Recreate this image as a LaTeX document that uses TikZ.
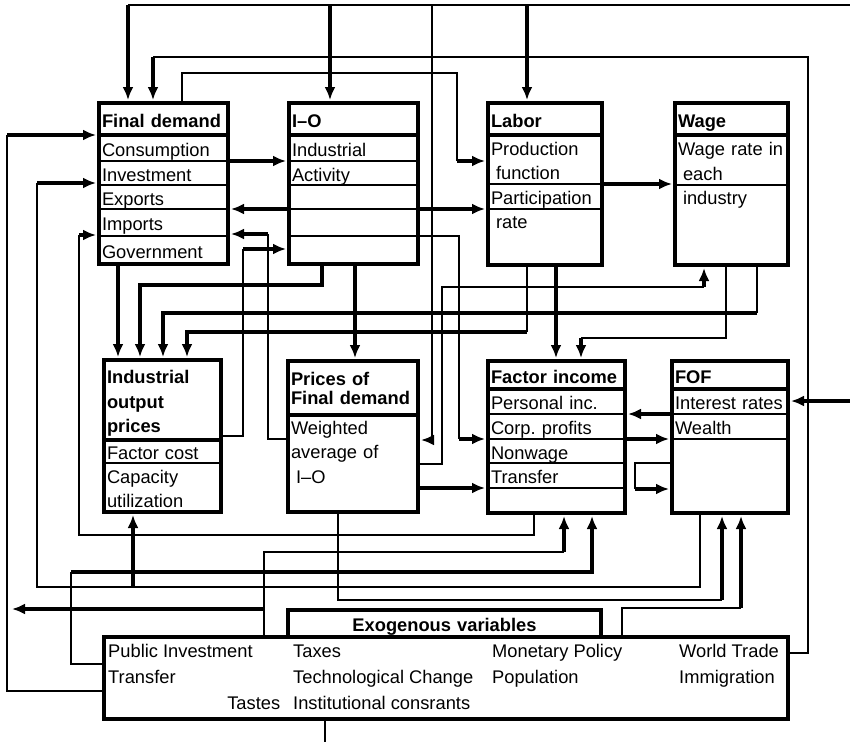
\documentclass[tikz,border=0pt]{standalone}
\usepackage{fontspec}
\setmainfont{Liberation Sans}
\usetikzlibrary{arrows.meta,positioning}
\newcommand\boxfont{\fontsize{18.3}{24.5}\selectfont}

\begin{document}
\begin{tikzpicture}[x=1pt,y=-1pt,
  font=\boxfont,
  hdr/.style={draw,line width=4pt,font=\boxfont\bfseries,anchor=north west,
    inner xsep=3pt,inner ysep=0pt,outer sep=0pt,align=left,text height=17pt,text depth=1pt},
  row/.style={draw,line width=1.6pt,inner xsep=3pt,inner ysep=0pt,outer sep=0pt,align=left,
    text height=17pt,text depth=1pt},
  toprow/.style={row,text height=19pt,text depth=#1},
  boxline/.style={line width=4pt},
  wire/.style={line width=1.3pt},
  feed/.style={line width=3.1pt},
  arr/.style={-{Latex[length=13pt,width=11pt]},shorten >=3pt}
]
\useasboundingbox (0,0) rectangle (850,742);

% Final demand
\begin{scope}[nodes={text width=123pt}]
\node[hdr,minimum height=32pt] (fd) at (99,103) {Final demand};
\node[row,below=0pt of fd,minimum height=26pt] (fd-c) {Consumption};
\node[row,below=0pt of fd-c,minimum height=24pt] (fd-i) {Investment};
\node[row,below=0pt of fd-i,minimum height=24pt] (fd-x) {Exports};
\node[row,below=0pt of fd-x,minimum height=27pt] (fd-m) {Imports};
\node[row,below=0pt of fd-m,minimum height=28pt] (fd-g) {Government};
\end{scope}
\draw[boxline] (fd.north west) rectangle (fd-g.south east);

% I-O
\begin{scope}[nodes={text width=123pt}]
\node[hdr,minimum height=32pt] (io) at (289,103) {I--O};
\node[row,below=0pt of io,minimum height=26pt] (io-a) {Industrial};
\node[row,below=0pt of io-a,minimum height=24pt] (io-b) {Activity};
\node[row,below=0pt of io-b,minimum height=24pt] (io-c) {};
\node[row,below=0pt of io-c,minimum height=27pt] (io-d) {};
\node[row,below=0pt of io-d,minimum height=28pt] (io-e) {};
\end{scope}
\draw[boxline] (io.north west) rectangle (io-e.south east);

% Labor
\begin{scope}[nodes={text width=108pt}]
\node[hdr,minimum height=32pt] (lab) at (488,103) {Labor};
\node[row,below=0pt of lab,minimum height=49pt,text depth=25.5pt] (lab-p) {Production\\\hspace*{5pt}function};
\node[row,below=0pt of lab-p,minimum height=25pt] (lab-q) {Participation};
\node[toprow=37pt,below=0pt of lab-q] (lab-r) {\hspace*{5pt}rate};
\end{scope}
\draw[boxline] (lab.north west) rectangle (lab-r.south east);

% Wage
\begin{scope}[nodes={text width=107pt}]
\node[hdr,minimum height=32pt] (wage) at (675,103) {Wage};
\node[row,below=0pt of wage,minimum height=50pt,text depth=25.5pt] (wage-r) {Wage rate in\\\hspace*{5pt}each};
\node[toprow=61pt,below=0pt of wage-r] (wage-i) {\hspace*{5pt}industry};
\end{scope}
\draw[boxline] (wage.north west) rectangle (wage-i.south east);

% Industrial output prices
\begin{scope}[nodes={text width=111pt}]
\node[hdr,minimum height=80pt,text depth=50pt] (iop) at (104,360) {Industrial\\output\\prices};
\node[row,below=0pt of iop,minimum height=23pt] (iop-f) {Factor cost};
\node[row,below=0pt of iop-f,minimum height=49pt,text depth=25.5pt] (iop-u) {Capacity\\utilization};
\end{scope}
\draw[boxline] (iop.north west) rectangle (iop-u.south east);

% Prices of final demand
\begin{scope}[nodes={text width=124pt}]
\node[hdr,minimum height=54pt,text height=15pt,text depth=20.5pt] (pfd) at (288,361) {Prices of\\[-5pt]Final demand};
\node[toprow=78pt,below=0pt of pfd] (pfd-w) {Weighted\\average of\\\hspace*{5pt}I--O};
\end{scope}
\draw[boxline] (pfd.north west) rectangle (pfd-w.south east);

% Factor income
\begin{scope}[nodes={text width=131pt}]
\node[hdr,minimum height=28pt] (fi) at (488,361) {Factor income};
\node[row,below=0pt of fi,minimum height=25pt] (fi-p) {Personal inc.};
\node[row,below=0pt of fi-p,minimum height=25pt] (fi-c) {Corp.\ profits};
\node[row,below=0pt of fi-c,minimum height=24pt] (fi-n) {Nonwage};
\node[row,below=0pt of fi-n,minimum height=25pt] (fi-t) {Transfer};
\node[row,below=0pt of fi-t,minimum height=25pt] (fi-e) {};
\end{scope}
\draw[boxline] (fi.north west) rectangle (fi-e.south east);

% FOF
\begin{scope}[nodes={text width=110pt}]
\node[hdr,minimum height=28pt] (fof) at (672,361) {FOF};
\node[row,below=0pt of fof,minimum height=25pt] (fof-i) {Interest rates};
\node[row,below=0pt of fof-i,minimum height=25pt] (fof-w) {Wealth};
\node[row,below=0pt of fof-w,minimum height=74pt] (fof-e) {};
\end{scope}
\draw[boxline] (fof.north west) rectangle (fof-e.south east);

% Exogenous variables
\node[hdr,text width=307pt,align=center,minimum height=27pt] (exo-h) at (288,610) {Exogenous variables};
\node[draw,boxline,anchor=north west,minimum width=684pt,minimum height=82pt,
  inner sep=0pt,outer sep=0pt] (exo) at (104,637) {};
\node[anchor=north west,inner sep=0pt] (exo-t) at (108,639) {%
  \renewcommand\arraystretch{1.06}%
  \begin{tabular}{@{}p{185pt}@{}p{199pt}@{}p{187pt}@{}l@{}}
  Public Investment & Taxes & Monetary Policy & World Trade\\
  Transfer & Technological Change & Population & Immigration\\
  \hfill Tastes\hspace*{13pt} & Institutional consrants & &
  \end{tabular}};

% coordinates for the bends
\coordinate (busR) at (850,5);
\coordinate (busFD) at (128,5);
\coordinate (busIO) at (330,5);
\coordinate (busPF) at (432,5);
\coordinate (busLab) at (527,5);
\coordinate (pfIn) at (432,440);
\coordinate (wt1) at (808,653);
\coordinate (wt2) at (808,57);
\coordinate (wt3) at (153,57);
\coordinate (fl1) at (182,73);
\coordinate (fl2) at (457,73);
\coordinate (fl3) at (457,161);
\coordinate (im1) at (268,439);
\coordinate (im2) at (268,234);
\coordinate (gv1) at (243,436);
\coordinate (gv2) at (243,249);
\coordinate (fdIop) at (118,300);
\coordinate (io1) at (322,285);
\coordinate (io2) at (140,285);
\coordinate (wg1) at (757,313);
\coordinate (wg2) at (163,313);
\coordinate (lb1) at (527,332);
\coordinate (lb2) at (187,332);
\coordinate (iopf) at (355,300);
\coordinate (lbfi) at (556,300);
\coordinate (wf1) at (726,338);
\coordinate (wf2) at (581,338);
\coordinate (pw1) at (442,464);
\coordinate (pw2) at (442,287);
\coordinate (pw3) at (704,287);
\coordinate (if1) at (459,236);
\coordinate (if2) at (459,439);
\coordinate (irate) at (850,401);
\coordinate (lp1) at (635,463);
\coordinate (lp2) at (635,489);
\coordinate (fd1) at (534,535);
\coordinate (fd2) at (79,535);
\coordinate (fd3) at (79,235);
\coordinate (fo1) at (700,587);
\coordinate (fo2) at (37,587);
\coordinate (fo3) at (37,183);
\coordinate (fo4) at (133,587);
\coordinate (ex1) at (71,664);
\coordinate (ex2) at (71,572);
\coordinate (ex3) at (592,572);
\coordinate (et1) at (264,552);
\coordinate (et2) at (564,552);
\coordinate (et3) at (264,609);
\coordinate (lout) at (9,609);
\coordinate (pf1) at (338,600);
\coordinate (pf2) at (722,600);
\coordinate (ef1) at (622,608);
\coordinate (ef2) at (741,608);
\coordinate (tr1) at (7,691);
\coordinate (tr2) at (7,135);
\coordinate (eb) at (325,742);

% top bus
\draw[wire] (busR) -- (busFD);
\draw[feed,arr] (busFD) -- (busFD |- fd.north);
\draw[feed,arr] (busIO) -- (busIO |- io.north);
\draw[feed,arr] (busLab) -- (busLab |- lab.north);
\draw[wire] (busPF) -- (pfIn);
\draw[feed,arr] (pfIn) -- (pfIn -| pfd.east);

% world trade
\draw[wire] (wt1 -| exo.east) -- (wt1) -- (wt2) -- (wt3);
\draw[feed,arr] (wt3) -- (wt3 |- fd.north);

% final demand and I-O
\draw[wire] (fl1 |- fd.north) -- (fl1) -- (fl2) -- (fl3);
\draw[feed,arr] (fl3) -- (fl3 -| lab.west);
\draw[feed,arr] (fd-c.south east) -- (io-a.south west);
\draw[feed,arr] (io-c.south west) -- (fd-x.south east);
\draw[feed,arr] (io-c.south east) -- (io-c.south east -| lab.west);
\draw[wire] (im1 -| pfd.west) -- (im1) -- (im2);
\draw[feed,arr] (im2) -- (im2 -| fd.east);
\draw[wire] (gv1 -| iop.east) -- (gv1) -- (gv2);
\draw[feed,arr] (gv2) -- (gv2 -| io.west);
\draw[feed,arr] (fdIop |- fd-g.south) -- (fdIop |- iop.north);
\draw[feed,arr] (io1 |- io-e.south) -- (io1) -- (io2) -- (io2 |- iop.north);
\draw[feed,arr] (iopf |- io-e.south) -- (iopf |- pfd.north);

% labor and wage
\draw[feed,arr] (lab-p.south east) -- (lab-p.south east -| wage.west);
\draw[wire] (wg1 |- wage-i.south) -- (wg1);
\draw[feed,arr] (wg1) -- (wg2) -- (wg2 |- iop.north);
\draw[wire] (lb1 |- lab-r.south) -- (lb1);
\draw[feed,arr] (lb1) -- (lb2) -- (lb2 |- iop.north);
\draw[feed,arr] (lbfi |- lab-r.south) -- (lbfi |- fi.north);
\draw[wire] (wf1 |- wage-i.south) -- (wf1) -- (wf2);
\draw[feed,arr] (wf2) -- (wf2 |- fi.north);
\draw[wire] (pw1 -| pfd.east) -- (pw1) -- (pw2) -- (pw3);
\draw[feed,arr] (pw3) -- (pw3 |- wage-i.south);

% factor income and FOF
\draw[wire] (io-d.south east) -- (if1) -- (if2);
\draw[feed,arr] (if2) -- (if2 -| fi.west);
\draw[feed,arr] (fi-t.south west -| pfd.east) -- (fi-t.south west);
\draw[feed,arr] (fi-c.south east) -- (fi-c.south east -| fof.west);
\draw[feed,arr] (fof-i.south west) -- (fof-i.south west -| fi.east);
\draw[feed,arr] (irate) -- (irate -| fof.east);
\draw[wire] (lp1 -| fof.west) -- (lp1) -- (lp2);
\draw[feed,arr] (lp2) -- (lp2 -| fof.west);

% feedback to the left
\draw[wire] (fd1 |- fi-e.south) -- (fd1) -- (fd2) -- (fd3);
\draw[feed,arr] (fd3) -- (fd3 -| fd.west);
\draw[wire] (fo1 |- fof-e.south) -- (fo1) -- (fo2) -- (fo3);
\draw[feed,arr] (fo3) -- (fo3 -| fd.west);
\draw[feed,arr] (fo4) -- (fo4 |- iop-u.south);

% exogenous variables
\draw[wire] (ex1 -| exo.west) -- (ex1) -- (ex2);
\draw[feed,arr] (ex2) -- (ex3) -- (ex3 |- fi-e.south);
\draw[wire] (et1 |- exo.north) -- (et1) -- (et2);
\draw[feed,arr] (et2) -- (et2 |- fi-e.south);
\draw[feed,arr] (et3) -- (lout);
\draw[wire] (pf1 |- pfd-w.south) -- (pf1) -- (pf2);
\draw[feed,arr] (pf2) -- (pf2 |- fof-e.south);
\draw[wire] (ef1 |- exo.north) -- (ef1) -- (ef2);
\draw[feed,arr] (ef2) -- (ef2 |- fof-e.south);
\draw[wire] (tr1 -| exo.west) -- (tr1) -- (tr2);
\draw[feed,arr] (tr2) -- (tr2 -| fd.west);
\draw[wire] (eb |- exo.south) -- (eb);
\end{tikzpicture}
\end{document}
